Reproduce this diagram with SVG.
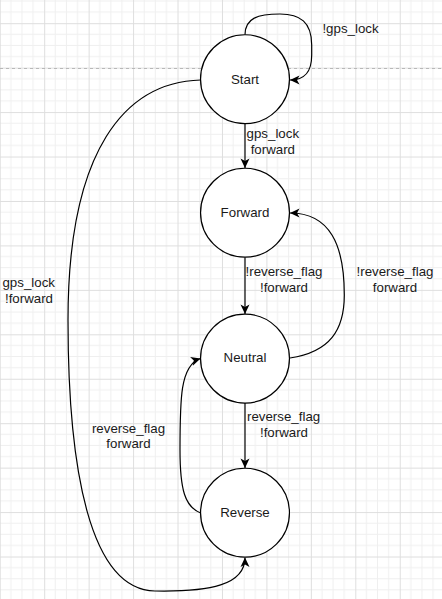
<svg xmlns="http://www.w3.org/2000/svg" width="442" height="599" viewBox="0 0 442 599">
<style>
.node{fill:#ffffff;stroke:#000000;stroke-width:1.2}
.edge{fill:none;stroke:#000000;stroke-width:1.2}
.lbl{font-family:"Liberation Sans",Arial,Helvetica,sans-serif;font-size:13.3px;fill:#1a1a1a;text-anchor:middle}
</style>
<defs>
<pattern id="grid" patternUnits="userSpaceOnUse" x="-0.25" y="23.2" width="44.444" height="44.444">
<rect x="10.61" y="0" width="1" height="44.444" fill="#efefef"/>
<rect x="21.72" y="0" width="1" height="44.444" fill="#efefef"/>
<rect x="32.83" y="0" width="1" height="44.444" fill="#efefef"/>
<rect x="0" y="10.61" width="44.444" height="1" fill="#efefef"/>
<rect x="0" y="21.72" width="44.444" height="1" fill="#efefef"/>
<rect x="0" y="32.83" width="44.444" height="1" fill="#efefef"/>
<rect x="0" y="0" width="1" height="44.444" fill="#dedede"/>
<rect x="0" y="0" width="44.444" height="1" fill="#dedede"/>
</pattern>
<marker id="arr" viewBox="-10 -5 10 10" refX="0" refY="0" markerWidth="10" markerHeight="10" markerUnits="userSpaceOnUse" orient="auto">
<path d="M0,0 L-9.5,-4.5 L-7,0 L-9.5,4.5 Z" fill="#000000"/>
</marker>
</defs>
<rect x="0" y="0" width="442" height="599" fill="#ffffff"/>
<rect x="0" y="0" width="442" height="599" fill="url(#grid)"/>
<line x1="0" y1="68.5" x2="442" y2="68.5" stroke="#b8b8b8" stroke-width="1" stroke-dasharray="3 3"/>
<g id="connectors">
<path id="e-start-start" class="edge" marker-end="url(#arr)" d="M245,34.8 C245,18 258,14 280,14 C300,14 311.7,22 311.7,45 L311.7,55 C311.7,72 305,80 290,80"/>
<path id="e-start-forward" class="edge" marker-end="url(#arr)" d="M245,123.7 L245,168.1"/>
<path id="e-forward-neutral" class="edge" marker-end="url(#arr)" d="M245,257.3 L245,314"/>
<path id="e-neutral-forward" class="edge" marker-end="url(#arr)" d="M290,358 C330,352 344.3,330 344.3,295 C344.3,245 330,213 290,213"/>
<path id="e-neutral-reverse" class="edge" marker-end="url(#arr)" d="M245,403 L245,468.1"/>
<path id="e-reverse-neutral" class="edge" marker-end="url(#arr)" d="M200.7,513 C185,507 180,490 180,450 C180,400 180,365 200.5,358.5"/>
<path id="e-start-reverse" class="edge" marker-end="url(#arr)" d="M200.7,80 C125,82 68,150 68,320 C68,470 90,590 155,591 C210,592 245,585 245,557.5"/>
<text class="lbl" x="350.5" y="32.8">!gps_lock</text>
<text class="lbl" x="272.8" y="137.7">gps_lock</text>
<text class="lbl" x="272.8" y="153.7">forward</text>
<text class="lbl" x="284" y="276.2">!reverse_flag</text>
<text class="lbl" x="284" y="291.8">!forward</text>
<text class="lbl" x="395" y="276.2">!reverse_flag</text>
<text class="lbl" x="395" y="291.8">forward</text>
<text class="lbl" x="283.6" y="421.2">reverse_flag</text>
<text class="lbl" x="284" y="436.8">!forward</text>
<text class="lbl" x="128.5" y="432.6">reverse_flag</text>
<text class="lbl" x="128.5" y="448.2">forward</text>
<text class="lbl" x="28.7" y="287.2">gps_lock</text>
<text class="lbl" x="29" y="303.4">!forward</text>
</g>
<g id="node-start">
<circle class="node" cx="245" cy="79.2" r="44.45"/>
<text class="lbl" x="245" y="84.3">Start</text>
</g>
<g id="node-forward">
<circle class="node" cx="245" cy="212.7" r="44.45"/>
<text class="lbl" x="245" y="217.4">Forward</text>
</g>
<g id="node-neutral">
<circle class="node" cx="245" cy="358.6" r="44.45"/>
<text class="lbl" x="245" y="362">Neutral</text>
</g>
<g id="node-reverse">
<circle class="node" cx="245" cy="512.7" r="44.45"/>
<text class="lbl" x="245" y="517.3">Reverse</text>
</g>
</svg>
